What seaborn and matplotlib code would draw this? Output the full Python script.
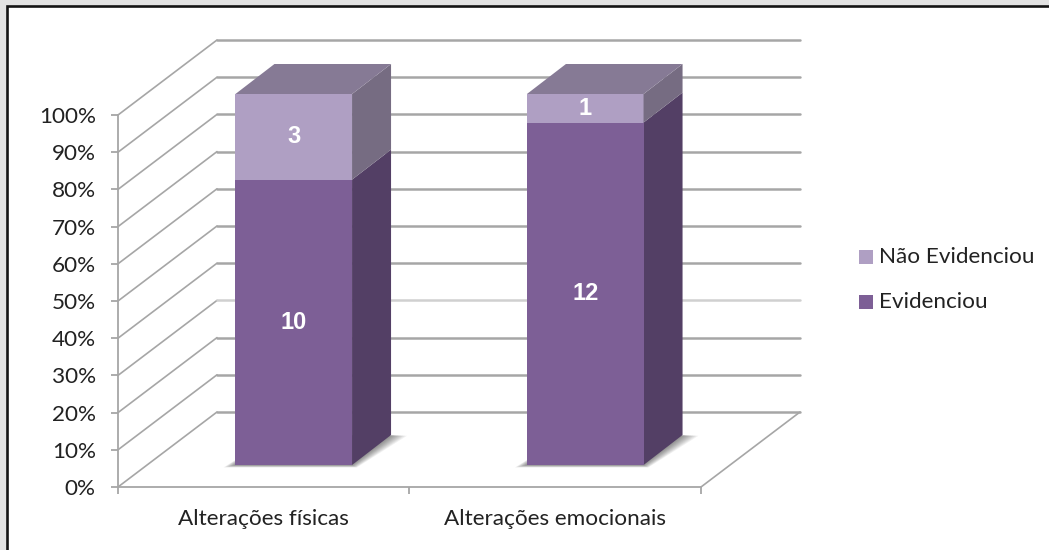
import matplotlib
matplotlib.use("Agg")
import matplotlib.pyplot as plt
from matplotlib.lines import Line2D
from matplotlib.patches import Polygon, Rectangle
import numpy as np
import pandas as pd
import seaborn as sns

# Survey counts per category
categories = ["Alterações físicas", "Alterações emocionais"]
evidenciou = [10, 12]
nao_evidenciou = [3, 1]
percent_ticks = [0, 10, 20, 30, 40, 50, 60, 70, 80, 90, 100]
legend_labels = ["Não Evidenciou", "Evidenciou"]

W, H = 1049, 550
DPI = 100
sns.set_theme(style="white")
plt.rcParams["font.family"] = ["Lato", "DejaVu Sans"]

DARK, DARK_SIDE = "#7D5F96", "#533F65"
LIGHT, LIGHT_SIDE, LIGHT_TOP = "#AF9FC3", "#766C82", "#867A95"
GRID = "#A6A6A6"
TEXT = "#222222"
LABEL_SIZE = 16.2


def px_axes(fig, left, top, right, bottom):
    """Axes placed from pixel edges measured from the top-left corner."""
    return fig.add_axes([left / W, 1 - bottom / H, (right - left) / W, (bottom - top) / H])


fig = plt.figure(figsize=(W / DPI, H / DPI), dpi=DPI, facecolor="#E2E2E2")

# White chart panel, with a dark rule along its top and left edges
fig.add_artist(Rectangle((7 / W, 0), 1 - 7 / W, 1 - 6 / H, transform=fig.transFigure,
                         facecolor="white", edgecolor="none", zorder=-2))
fig.add_artist(Line2D([7 / W, 7 / W, 1], [0, 1 - 6 / H, 1 - 6 / H], transform=fig.transFigure,
                      color="#141414", lw=1.9, zorder=-1, solid_joinstyle="miter"))

# Front plane: carries the value axis and the category axis
front = px_axes(fig, 118, 115, 701, 487)
front.set_xlim(0, 2)
front.set_ylim(0, 100)
front.patch.set_alpha(0)
for side in ("top", "right"):
    front.spines[side].set_visible(False)
for side in ("left", "bottom"):
    front.spines[side].set_color(GRID)
    front.spines[side].set_linewidth(1.3)
front.set_yticks(percent_ticks)
front.set_yticklabels([f"{p}%" for p in percent_ticks], fontsize=LABEL_SIZE, color=TEXT)
front.set_xticks([0, 1, 2])
front.set_xticklabels([])
front.set_xticks([0.5, 1.5], minor=True)
front.set_xticklabels(categories, minor=True, fontsize=LABEL_SIZE, color=TEXT)
front.tick_params(axis="both", which="major", length=5, width=1.3, color=GRID, left=True, bottom=True)
front.tick_params(axis="y", which="major", pad=11)
front.tick_params(axis="x", which="minor", length=0, pad=16)

# Wall and floor lines receding from the front plane
wall_dx = 99 / (583 / 2)
wall_dy = 75 / 3.72
for p in percent_ticks:
    shade = "#D0D0D0" if p == 30 else GRID
    front.plot([0, wall_dx], [p, p + wall_dy], color=GRID, lw=1.2, clip_on=False, zorder=1)
    front.plot([wall_dx, 2 + wall_dx], [p + wall_dy, p + wall_dy], color=shade, lw=1.8, clip_on=False, zorder=1)
front.plot([2, 2 + wall_dx], [0, wall_dy], color=GRID, lw=1.2, clip_on=False, zorder=1)

# Bar plane, set back from the front plane
ax = px_axes(fig, 148, 94, 731, 465)
ax.set_zorder(front.get_zorder() + 1)
ax.patch.set_alpha(0)

totals = np.array(evidenciou) + np.array(nao_evidenciou)
pct_yes = 100 * np.array(evidenciou) / totals
df = pd.DataFrame({"categoria": categories, "total": 100.0, "sim": pct_yes})
sns.barplot(data=df, x="categoria", y="total", color=LIGHT, saturation=1, width=0.4, ax=ax,
            zorder=3, linewidth=0, edgecolor="none")
n_light = len(ax.patches)
sns.barplot(data=df, x="categoria", y="sim", color=DARK, saturation=1, width=0.4, ax=ax,
            zorder=4, linewidth=0, edgecolor="none")
ax.set_xlim(-0.5, 1.5)
ax.set_ylim(0, 100)
ax.axis("off")

depth_x = 39 / (583 / 2)
depth_y = 30 / 3.71

# Soft floor shadow beneath each column
for bar in ax.patches[:n_light]:
    x0, w = bar.get_x(), bar.get_width()
    for k in range(9):
        grow = (9 - k) / 9
        gx0 = 12 / 291.5 * grow
        gx1 = 16 / 291.5 * grow
        gy = 2.5 / 3.71 * grow
        ax.add_patch(Polygon([(x0 - gx0, -gy), (x0 + w + gx1 * 0.3, -gy),
                              (x0 + w + depth_x + gx1, depth_y - gy * 0.3), (x0 + depth_x, depth_y)],
                             closed=True, facecolor="black", edgecolor="none", alpha=0.055,
                             clip_on=False, zorder=2))

# Side and top faces of each column
for light, yes in zip(ax.patches[:n_light], pct_yes):
    x1 = light.get_x() + light.get_width()
    x0 = light.get_x()
    ax.add_patch(Polygon([(x1, 0), (x1 + depth_x, depth_y), (x1 + depth_x, yes + depth_y), (x1, yes)],
                         closed=True, facecolor=DARK_SIDE, edgecolor="none", clip_on=False, zorder=3))
    ax.add_patch(Polygon([(x1, yes), (x1 + depth_x, yes + depth_y), (x1 + depth_x, 100 + depth_y), (x1, 100)],
                         closed=True, facecolor=LIGHT_SIDE, edgecolor="none", clip_on=False, zorder=3))
    ax.add_patch(Polygon([(x0, 100), (x0 + depth_x, 100 + depth_y), (x1 + depth_x, 100 + depth_y), (x1, 100)],
                         closed=True, facecolor=LIGHT_TOP, edgecolor="none", clip_on=False, zorder=3))

# Count labels inside the segments
for i in range(len(categories)):
    ax.text(i, pct_yes[i] / 2, str(evidenciou[i]), ha="center", va="center", color="white",
            fontsize=17, fontweight="bold", family="Liberation Sans", zorder=6)
    ax.text(i, (pct_yes[i] + 100) / 2, str(nao_evidenciou[i]), ha="center", va="center", color="white",
            fontsize=17, fontweight="bold", family="Liberation Sans", zorder=6)

# Legend
legend_ax = px_axes(fig, 0, 0, W, H)
legend_ax.set_xlim(0, W)
legend_ax.set_ylim(H, 0)
legend_ax.axis("off")
for label, color, y in zip(legend_labels, [LIGHT, DARK], [257, 302]):
    legend_ax.add_patch(Rectangle((859, y - 7), 14, 14, facecolor=color, edgecolor="none"))
    legend_ax.text(879, y, label, va="center", ha="left", fontsize=LABEL_SIZE, color=TEXT)

fig.savefig("out.png", dpi=DPI, facecolor=fig.get_facecolor())
